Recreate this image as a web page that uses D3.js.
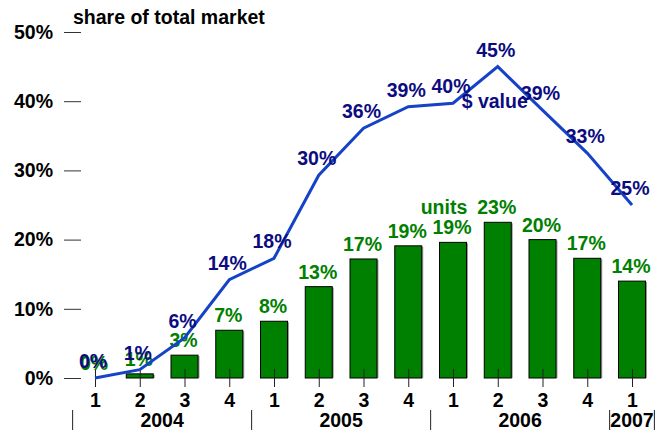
<!DOCTYPE html>
<html>
<head>
<meta charset="utf-8">
<script src="https://cdn.jsdelivr.net/npm/d3@7"></script>
<style>
  body { margin: 0; background: #fff; }
  text { font-family: "Liberation Sans", Arial, sans-serif; font-weight: bold; }
</style>
</head>
<body>
<div id="chart"></div>
<script>
/* DATA */
const quarters = ["1", "2", "3", "4", "1", "2", "3", "4", "1", "2", "3", "4", "1"];
const years = ["2004", "2005", "2006", "2007"];
const quartersPerYear = [4, 4, 4, 1];
const unitShare = [0, 0.6, 3.3, 6.9, 8.2, 13.2, 17.2, 19.1, 19.6, 22.5, 20.0, 17.3, 14.0];
const unitLabels = ["0%", "1%", "3%", "7%", "8%", "13%", "17%", "19%", "19%", "23%", "20%", "17%", "14%"];
const valueShare = [0, 1.2, 5.8, 14.2, 17.3, 29.3, 36.1, 39.2, 39.7, 45.0, 38.7, 32.5, 25.0];
const valueLabels = ["0%", "1%", "6%", "14%", "18%", "30%", "36%", "39%", "40%", "45%", "39%", "33%", "25%"];
const yTicks = [0, 10, 20, 30, 40, 50];

/* CONSTANTS */
const width = 667, height = 430;
const green = "#008000", navy = "#0c0c80", lineBlue = "#1642c8";
const fontSize = 19.5;

const svg = d3.select("#chart").append("svg")
  .attr("width", width)
  .attr("height", height);

// scales
const xScale = d3.scaleLinear()
  .domain([0, quarters.length - 1])
  .range([95, 632]);

const yScale = d3.scaleLinear()
  .domain([0, 50])
  .range([378, 32]);

const barWidth = 27;

// title
svg.append("text")
  .attr("x", 73)
  .attr("y", 24)
  .attr("font-size", fontSize)
  .attr("fill", "#000")
  .text("share of total market");

// y axis
const yAxis = d3.axisLeft(yScale)
  .tickValues(yTicks)
  .tickSize(17)
  .tickPadding(11)
  .tickFormat(d => d + "%");

const yAxisGroup = svg.append("g")
  .attr("transform", `translate(81, 0)`)
  .call(yAxis);
yAxisGroup.select(".domain").remove();
yAxisGroup.selectAll("line").attr("stroke", "#333");
yAxisGroup.selectAll("text")
  .attr("font-size", fontSize)
  .attr("font-family", "Liberation Sans, Arial, sans-serif")
  .attr("font-weight", "bold")
  .attr("fill", "#000");

// bar shadows
svg.selectAll(".shadow")
  .data(unitShare)
  .join("rect")
  .attr("class", "shadow")
  .attr("x", (d, i) => xScale(i) - barWidth / 2 + 1.5)
  .attr("y", d => yScale(d) + 1)
  .attr("width", barWidth)
  .attr("height", d => Math.max(0, yScale(0) - yScale(d) - 1))
  .attr("fill", d => d > 0 ? "#9a9a9a" : "none");

// bars
svg.selectAll(".bar")
  .data(unitShare)
  .join("rect")
  .attr("class", "bar")
  .attr("x", (d, i) => xScale(i) - barWidth / 2)
  .attr("y", d => yScale(d))
  .attr("width", barWidth)
  .attr("height", d => yScale(0) - yScale(d))
  .attr("fill", green)
  .attr("stroke", d => d > 0 ? "#000" : "none")
  .attr("stroke-width", 1);

// x axis (quarters)
const xAxis = d3.axisBottom(xScale)
  .tickValues(d3.range(quarters.length))
  .tickSize(18)
  .tickPadding(6)
  .tickFormat(i => quarters[i]);

const xAxisGroup = svg.append("g")
  .attr("transform", `translate(0, 369)`)
  .call(xAxis);
xAxisGroup.select(".domain").remove();
xAxisGroup.selectAll("line").attr("stroke", "#222");
xAxisGroup.selectAll("text")
  .attr("font-size", fontSize)
  .attr("font-family", "Liberation Sans, Arial, sans-serif")
  .attr("font-weight", "bold")
  .attr("fill", "#000");

// year groups
let start = 0;
const yearGroups = years.map((y, k) => {
  const g = { year: y, first: start, last: start + quartersPerYear[k] - 1 };
  start += quartersPerYear[k];
  return g;
});

svg.selectAll(".year-sep")
  .data([...yearGroups.map(g => g.first - 0.5), yearGroups[yearGroups.length - 1].last + 0.5])
  .join("line")
  .attr("class", "year-sep")
  .attr("x1", d => xScale(d))
  .attr("x2", d => xScale(d))
  .attr("y1", 410)
  .attr("y2", 430)
  .attr("stroke", "#222")
  .attr("stroke-width", 1);

svg.selectAll(".year-label")
  .data(yearGroups)
  .join("text")
  .attr("class", "year-label")
  .attr("x", d => xScale((d.first + d.last) / 2))
  .attr("y", 427)
  .attr("text-anchor", "middle")
  .attr("font-size", fontSize)
  .attr("fill", "#000")
  .text(d => d.year);

// unit labels
svg.selectAll(".unit-label")
  .data(unitShare)
  .join("text")
  .attr("class", "unit-label")
  .attr("x", (d, i) => xScale(i) - 1)
  .attr("y", d => yScale(d) - 8)
  .attr("text-anchor", "middle")
  .attr("font-size", fontSize)
  .attr("fill", green)
  .text((d, i) => unitLabels[i]);

// value line
const lineGen = d3.line()
  .x((d, i) => xScale(i))
  .y(d => yScale(d));

svg.append("path")
  .datum(valueShare)
  .attr("d", lineGen)
  .attr("fill", "none")
  .attr("stroke", lineBlue)
  .attr("stroke-width", 3)
  .attr("stroke-linejoin", "miter");

// value labels
svg.selectAll(".value-label")
  .data(valueShare)
  .join("text")
  .attr("class", "value-label")
  .attr("x", (d, i) => xScale(i) - 2)
  .attr("y", d => yScale(d) - 10)
  .attr("text-anchor", "middle")
  .attr("font-size", fontSize)
  .attr("fill", navy)
  .text((d, i) => valueLabels[i]);

// series names
svg.append("text")
  .attr("x", xScale(9) - 3)
  .attr("y", yScale(39))
  .attr("text-anchor", "middle")
  .attr("font-size", fontSize)
  .attr("fill", navy)
  .text("$ value");

svg.append("text")
  .attr("x", xScale(8) - 9)
  .attr("y", yScale(23.7))
  .attr("text-anchor", "middle")
  .attr("font-size", fontSize)
  .attr("fill", green)
  .text("units");
</script>
</body>
</html>
